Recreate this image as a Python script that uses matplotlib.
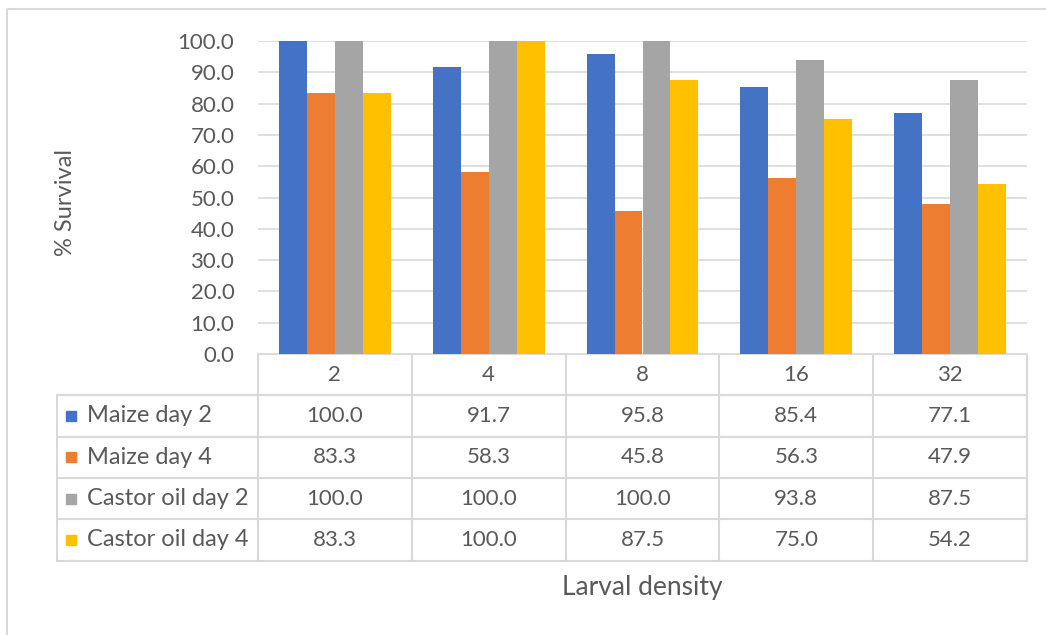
import numpy as np
import matplotlib.pyplot as plt
from matplotlib.patches import Rectangle

plt.rcParams['font.family'] = ['Lato', 'DejaVu Sans']

# Data
densities = ['2', '4', '8', '16', '32']
series_names = ['Maize day 2', 'Maize day 4', 'Castor oil day 2', 'Castor oil day 4']
maize_d2 = [100.0, 91.7, 95.8, 85.4, 77.1]
maize_d4 = [83.3, 58.3, 45.8, 56.3, 47.9]
castor_d2 = [100.0, 100.0, 100.0, 93.8, 87.5]
castor_d4 = [83.3, 100.0, 87.5, 75.0, 54.2]
series = [maize_d2, maize_d4, castor_d2, castor_d4]
colors = ['#4472C4', '#ED7D31', '#A5A5A5', '#FFC000']
yticks = np.arange(0, 101, 10)

# Layout (pixels)
W, H = 1046, 635
px_left, px_right = 258, 1027
px_top, px_bottom = 41, 354
tbl_left = 57
row_h = 41.3
txt_col = '#595959'
grid_col = '#D9D9D9'
fs = 16

fig = plt.figure(figsize=(W / 100, H / 100), dpi=100)

# overlay for table, border and labels (pixel coordinates)
ov = fig.add_axes([0, 0, 1, 1])
ov.set_xlim(0, W)
ov.set_ylim(H, 0)
ov.axis('off')
ov.add_patch(Rectangle((7, 9), W, H, fill=False, edgecolor='#D9D9D9', linewidth=1.5))

ax = fig.add_axes([px_left / W, (H - px_bottom) / H,
                   (px_right - px_left) / W, (px_bottom - px_top) / H])
x = np.arange(len(densities))
bw = 0.182
for i, (vals, c) in enumerate(zip(series, colors)):
    ax.bar(x + (i - 1.5) * bw, vals, width=bw, color=c, zorder=3)
ax.set_xlim(-0.5, len(densities) - 0.5)
ax.set_ylim(0, 100)
ax.set_yticks(yticks)
ax.set_yticklabels([f'{v:.1f}' for v in yticks], fontsize=fs, color=txt_col)
ax.tick_params(axis='y', length=0, pad=17)
ax.set_xticks([])
ax.grid(axis='y', color=grid_col, linewidth=1.2, zorder=0)
for s in ax.spines.values():
    s.set_visible(False)

# data table
col_w = (px_right - px_left) / len(densities)
n_rows = len(series) + 1
y_bot = px_bottom + n_rows * row_h
lc = '#D9D9D9'
lw = 1.5
ov.plot([px_left, px_right], [px_bottom, px_bottom], color=lc, lw=lw)
for r in range(1, n_rows + 1):
    yy = px_bottom + r * row_h
    ov.plot([tbl_left, px_right], [yy, yy], color=lc, lw=lw)
for cidx in range(len(densities) + 1):
    xx = px_left + cidx * col_w
    ov.plot([xx, xx], [px_bottom, y_bot], color=lc, lw=lw)
ov.plot([tbl_left, tbl_left], [px_bottom + row_h, y_bot], color=lc, lw=lw)

for cidx, d in enumerate(densities):
    ov.text(px_left + (cidx + 0.5) * col_w, px_bottom + 0.5 * row_h, d,
            ha='center', va='center', fontsize=fs, color=txt_col)
for r, (name, vals, c) in enumerate(zip(series_names, series, colors)):
    yc = px_bottom + (r + 1.5) * row_h
    ov.add_patch(Rectangle((66, yc - 5), 10, 10, color=c))
    ov.text(87, yc, name, ha='left', va='center', fontsize=17, color=txt_col)
    for cidx, v in enumerate(vals):
        ov.text(px_left + (cidx + 0.5) * col_w, yc, f'{v:.1f}',
                ha='center', va='center', fontsize=fs, color=txt_col)

ov.text(66, 203, '% Survival', rotation=90,
        ha='center', va='center', fontsize=17, color=txt_col)
ov.text(642, 588, 'Larval density',
        ha='center', va='center', fontsize=19, color=txt_col)

fig.savefig('out.png', dpi=100)
